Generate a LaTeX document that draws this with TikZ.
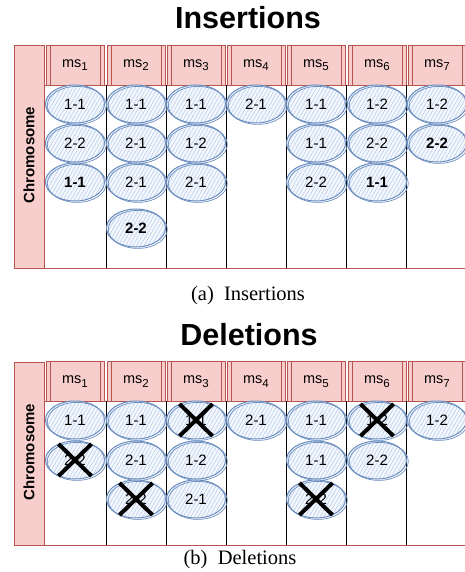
\documentclass[tikz,border=0pt]{standalone}
\usepackage{fontspec}
\setmainfont{Liberation Serif}
\setsansfont{Liberation Sans}
\usetikzlibrary{shapes.geometric,shapes.misc,patterns.meta}

\definecolor{lanefill}{HTML}{F8CECC}
\definecolor{laneline}{HTML}{B85450}
\definecolor{cellline}{HTML}{6C8EBF}
\definecolor{cellhatch}{HTML}{B5CBEE}
\definecolor{cellfill}{HTML}{F4F8FD}

% microservice name with a dropped index
\newcommand{\msname}[1]{ms\raisebox{-0.45ex}{\fontsize{11.5}{13}\selectfont#1}}

\tikzset{
  title/.style={font=\sffamily\bfseries\fontsize{30.5}{36}\selectfont},
  caption/.style={font=\rmfamily\fontsize{20.5}{24}\selectfont},
  lane/.style={draw=laneline, fill=lanefill, line width=0.8pt},
  lanelabel/.style={font=\sffamily\bfseries\fontsize{15}{17}\selectfont, rotate=90},
  sep/.style={draw=black, line width=0.8pt},
  head/.style={draw=laneline, fill=lanefill, line width=0.8pt, minimum width=58, minimum height=40,
    inner sep=0pt, font=\sffamily\fontsize{14.5}{16}\selectfont,
    path picture={\draw[laneline, line width=0.8pt]
      ([xshift=4pt]path picture bounding box.north west) -- ([xshift=4pt]path picture bounding box.south west)
      ([xshift=-4pt]path picture bounding box.north east) -- ([xshift=-4pt]path picture bounding box.south east);}},
  cell/.style={ellipse, minimum width=59, minimum height=38, inner sep=0pt, draw=cellline, line width=1pt,
    preaction={fill=cellfill}, pattern={Lines[angle=60,distance=3.2pt,line width=0.55pt]}, pattern color=cellhatch,
    postaction={draw=cellline, line width=0.7pt, transform canvas={shift={(1.8pt,-1.4pt)}}},
    font=\sffamily\fontsize{15}{17}\selectfont},
  key/.style={cell, font=\sffamily\bfseries\fontsize{15}{17}\selectfont},
  xmark/.style={cross out, draw=black, line width=4pt, minimum width=29, minimum height=28, inner sep=0pt}
}

\begin{document}
\begin{tikzpicture}[x=1pt, y=-1pt]
\useasboundingbox (0,0) rectangle (465,572);

% ---- insertions ----
\node[title] (institle) at (248,18) {Insertions};
\draw[lane] (14,45) rectangle (44,268);
\draw[laneline, line width=0.8pt] (44,85) rectangle (470,268);
\node[lanelabel] (inslane) at (29,155) {Chromosome};
\foreach \i/\x in {1/75, 2/136, 3/196, 4/256, 5/316, 6/377, 7/437}
  \node[head] (insh\i) at (\x,65) {\msname{\i}};
\foreach \x in {106, 166, 226, 286, 346, 406}
  \draw[sep] (\x,85.4) -- (\x,267.6);

\node[cell] (ins11) at (75,104) {1-1};
\node[cell] (ins12) at (75,143) {2-2};
\node[key] (ins13) at (75,182) {1-1};
\node[cell] (ins21) at (136,104) {1-1};
\node[cell] (ins22) at (136,143) {2-1};
\node[cell] (ins23) at (136,182) {2-1};
\node[key] (ins24) at (136,228) {2-2};
\node[cell] (ins31) at (196,104) {1-1};
\node[cell] (ins32) at (196,143) {1-2};
\node[cell] (ins33) at (196,182) {2-1};
\node[cell] (ins41) at (256,104) {2-1};
\node[cell] (ins51) at (316,104) {1-1};
\node[cell] (ins52) at (316,143) {1-1};
\node[cell] (ins53) at (316,182) {2-2};
\node[cell] (ins61) at (377,104) {1-2};
\node[cell] (ins62) at (377,143) {2-2};
\node[key] (ins63) at (377,182) {1-1};
\node[cell] (ins71) at (437,104) {1-2};
\node[key] (ins72) at (437,143) {2-2};

\node[caption] (inscap) at (248,296) {(a)~~Insertions};

% ---- deletions ----
\node[title] (deltitle) at (249,335) {Deletions};
\draw[lane] (14,362) rectangle (44,545);
\draw[laneline, line width=0.8pt] (44,401) rectangle (470,545);
\node[lanelabel] (dellane) at (29,452) {Chromosome};
\foreach \i/\x in {1/75, 2/136, 3/196, 4/256, 5/316, 6/377, 7/437}
  \node[head] (delh\i) at (\x,381.5) {\msname{\i}};
\foreach \x in {106, 166, 226, 286, 346, 406}
  \draw[sep] (\x,401.4) -- (\x,544.6);

\node[cell] (del11) at (75,420) {1-1};
\node[cell] (del12) at (75,460) {2-2};
\node[cell] (del21) at (136,420) {1-1};
\node[cell] (del22) at (136,460) {2-1};
\node[cell] (del23) at (136,499) {2-2};
\node[cell] (del31) at (196,420) {1-1};
\node[cell] (del32) at (196,460) {1-2};
\node[cell] (del33) at (196,499) {2-1};
\node[cell] (del41) at (256,420) {2-1};
\node[cell] (del51) at (316,420) {1-1};
\node[cell] (del52) at (316,460) {1-1};
\node[cell] (del53) at (316,499) {2-2};
\node[cell] (del61) at (377,420) {1-2};
\node[cell] (del62) at (377,460) {2-2};
\node[cell] (del71) at (437,420) {1-2};

% removed entries
\node[xmark] (delx12) at (del12) {};
\node[xmark] (delx23) at (del23) {};
\node[xmark] (delx31) at (del31) {};
\node[xmark] (delx53) at (del53) {};
\node[xmark] (delx61) at (del61) {};

\node[caption] (delcap) at (240,560) {(b)~~Deletions};
\end{tikzpicture}
\end{document}
